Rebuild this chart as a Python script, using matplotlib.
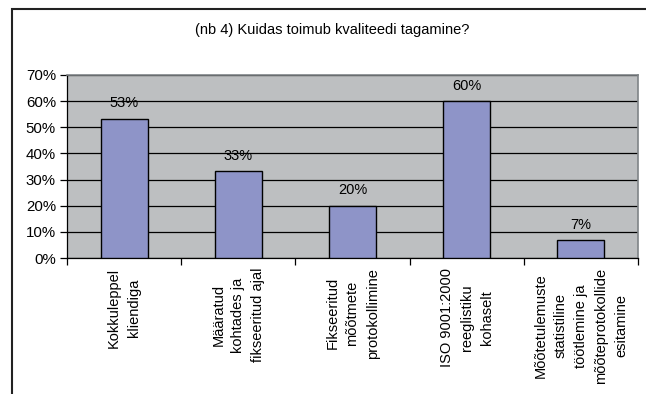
import matplotlib.pyplot as plt
from matplotlib.patches import Rectangle

plt.rcParams['font.family'] = ['Liberation Sans', 'DejaVu Sans']

# data
categories = [
    "Kokkuleppel\nkliendiga",
    "Määratud\nkohtades ja\nfikseeritud ajal",
    "Fikseeritud\nmõõtmete\nprotokollimine",
    "ISO 9001:2000\nreeglistiku\nkohaselt",
    "Mõõtetulemuste\nstatistiline\ntöötlemine ja\nmõõteprotokollide\nesitamine",
]
values = [53.3, 33.3, 20.0, 60.0, 6.7]
yticks = [0, 10, 20, 30, 40, 50, 60, 70]
title = "(nb 4) Kuidas toimub kvaliteedi tagamine?"

W, H = 646, 394
fig = plt.figure(figsize=(W / 100, H / 100), dpi=100)
ax = fig.add_axes([67 / W, 1 - 258 / H, (638 - 67) / W, (258 - 75) / H])

ax.set_facecolor('#BDBFC1')
x = list(range(len(categories)))
ax.bar(x, values, width=0.41, color='#8E94C8', edgecolor='black', linewidth=1, zorder=3)

for xi, v in zip(x, values):
    ax.annotate(f"{round(v)}%", (xi, v), xytext=(0, 6), textcoords='offset points',
                ha='center', va='bottom', fontsize=10.5)

ax.set_xlim(-0.5, len(categories) - 0.5)
ax.set_ylim(0, 70)
ax.set_yticks(yticks)
ax.set_yticklabels([f"{t}%" for t in yticks], fontsize=10.8)
ax.yaxis.grid(True, color='black', linewidth=0.9, zorder=1)

# category labels (rotated) and ticks at the category boundaries
ax.set_xticks(x)
ax.set_xticklabels(categories, rotation=90, ha='center', va='top',
                   multialignment='center', fontsize=10.5, linespacing=1.55)
ax.tick_params(axis='x', length=0, pad=7)
ax.set_xticks([i + 0.5 for i in range(-1, len(categories))], minor=True)
ax.tick_params(axis='x', which='minor', length=5, direction='out', width=0.9)
ax.tick_params(axis='y', length=5, direction='out', width=0.9, pad=3)

for side in ['left', 'bottom']:
    ax.spines[side].set_color('black')
    ax.spines[side].set_linewidth(0.9)
for side in ['top', 'right']:
    ax.spines[side].set_color('#7F8487')
    ax.spines[side].set_linewidth(1.2)

fig.text(332 / W, 1 - 30 / H, title, ha='center', va='center', fontsize=10.5)

# outer chart border
fig.add_artist(Rectangle((12 / W, -0.1), 1.0, 1.1 - 9 / H, transform=fig.transFigure,
                         fill=False, edgecolor='#222222', linewidth=1.5, clip_on=False))

fig.savefig('out.png', dpi=100)
